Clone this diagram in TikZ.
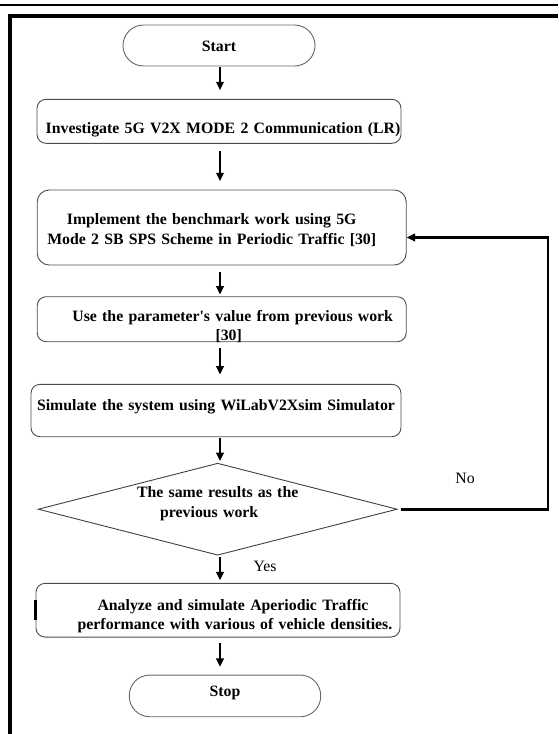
\documentclass[tikz,border=0pt]{standalone}
\usepackage{fontspec}
\setmainfont{Liberation Serif}
\usetikzlibrary{shapes.geometric,arrows.meta}
\begin{document}
\begin{tikzpicture}[x=1pt,y=-1pt,
font=\fontsize{15.8}{20}\selectfont\bfseries,
stepbox/.style={
% The shape:
rectangle,
draw=black!70,
line width=0.9pt,
rounded corners=9pt,
inner sep=0pt,
align=center
},
terminal/.style={
rectangle,minimum width=192pt,rounded corners=20.5pt,inner sep=0pt,
draw=black!60,line width=0.9pt
},
decision/.style={
diamond,aspect=3.9,minimum width=359pt,minimum height=92pt,inner sep=0pt,
draw=black!75,line width=0.9pt,align=center
},
flow/.style={line width=2.3pt,-{Triangle[length=8.5pt,width=7.5pt]}},
note/.style={font=\normalfont\fontsize{15.8}{20}\selectfont,anchor=base}
]
\useasboundingbox (0,0) rectangle (558,734);
% Page rule and frame:
\draw[line width=1.6pt] (0,5) -- (558,5);
\draw[line width=3.5pt] (10,734) -- (10,16) -- (558,16);
% Steps:
\node (start) [terminal,text height=26.7pt,text depth=14.3pt] at (219,45.5) {Start};
\node (invest) [stepbox,text width=364pt,text height=34pt,text depth=10pt] at (219,121.3) {\hspace*{8pt}Investigate 5G V2X MODE 2 Communication (LR)};
\node (bench) [stepbox,rounded corners=12pt,text width=369pt,text height=34.3pt,text depth=40.7pt] at (221.7,227.5) {\hspace*{-20pt}Implement the benchmark work using 5G\\\hspace*{-20pt}Mode 2 SB SPS Scheme in Periodic Traffic [30]};
\node (param) [stepbox,text width=369pt,text height=24.3pt,text depth=20.7pt,font=\fontsize{15.8}{19}\selectfont\bfseries] at (221.7,319.2) {\hspace*{22pt}Use the parameter\textquotesingle s value from previous work\\\hspace*{14pt}[30]};
\node (simul) [stepbox,text width=370pt,text height=26pt,text depth=26.4pt] at (216,410.5) {Simulate the system using WiLabV2Xsim Simulator};
\node (decide) [decision,text width=170pt,text height=10pt,text depth=33pt] at (217.7,509.2) {The same results as the\\\hspace*{-17pt}previous work};
\node (analyze) [stepbox,text width=364pt,text height=26.7pt,text depth=27pt,font=\fontsize{15.8}{19.5}\selectfont\bfseries] at (218,610.2) {\hspace*{30pt}Analyze and simulate Aperiodic Traffic\\\hspace*{34pt}performance with various of vehicle densities.};
\node (stop) [terminal,minimum width=191.4pt,text height=21.7pt,text depth=20pt] at (225,695.9) {Stop};
% Answers:
\node (no) [note] at (465,483) {No};
\node (yes) [note] at (265,571.7) {Yes};
% Connectors:
\coordinate (axis) at (220,0);
\coordinate (ret) at (548,0);
\draw[flow,shorten <=0.7pt,shorten >=8.6pt] (start.south -| axis) -- (invest.north -| axis);
\draw[flow,shorten <=7.4pt,shorten >=8.3pt] (invest.south -| axis) -- (bench.north -| axis);
\draw[flow,shorten <=6.7pt,shorten >=1.7pt] (bench.south -| axis) -- (param.north -| axis);
\draw[flow,shorten <=6.3pt,shorten >=9.3pt] (param.south -| axis) -- (simul.north -| axis);
\draw[flow,shorten <=1.3pt,shorten >=1.6pt] (simul.south -| axis) -- (decide.north -| axis);
\draw[flow,shorten <=1.7pt,shorten >=2.6pt] (decide.south -| axis) -- (analyze.north -| axis);
\draw[flow,shorten <=5.8pt,shorten >=7.7pt] (analyze.south -| axis) -- (stop.north -| axis);
\draw[flow,line width=2.6pt,shorten <=3pt] (decide.east) -- (decide.east -| ret) -- ([yshift=-10pt]bench.east -| ret) -- ([yshift=-10pt]bench.east);
% Mark on the left side of the last box:
\draw[line width=2.4pt] ([yshift=10pt]analyze.west) -- ([yshift=-10pt]analyze.west);
\end{tikzpicture}
\end{document}
